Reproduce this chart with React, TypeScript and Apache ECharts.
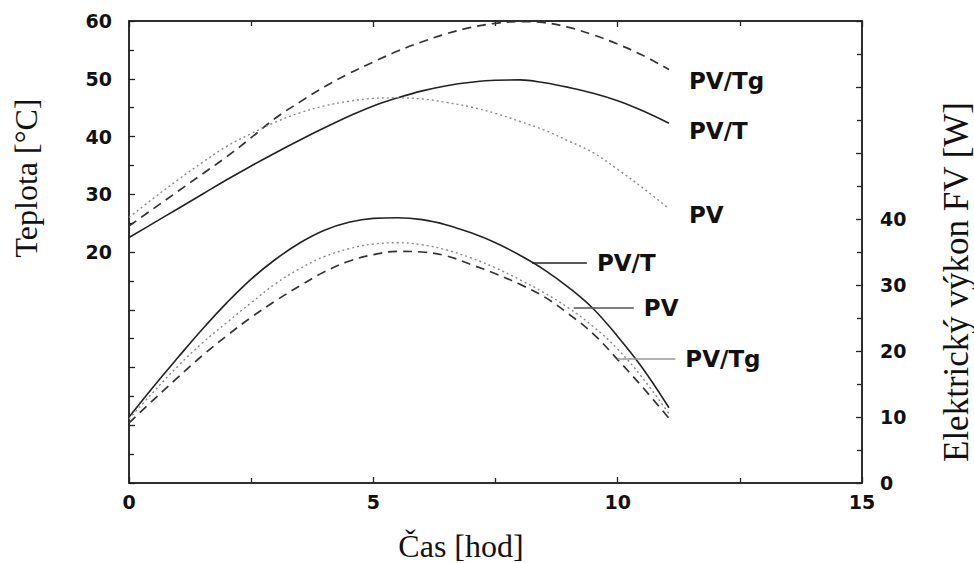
import React, { useEffect, useRef } from "react";
import * as echarts from "echarts";

// hours
const hours = [0, 0.5, 1, 1.5, 2, 2.5, 3, 3.5, 4, 4.5, 5, 5.5, 6, 6.5, 7, 7.5, 8, 8.5, 9, 9.5, 10, 10.5, 11.05];

// temperatures [°C] (left axis)
const tempPVTg = [24.5, 27.5, 30.5, 33.5, 36.5, 39.8, 43.2, 46, 48.6, 50.9, 52.9, 54.8, 56.4, 57.8, 58.9, 59.6, 59.9, 59.7, 58.9, 57.6, 56, 54.1, 51.6];
const tempPVT = [22.5, 25, 27.5, 30, 32.5, 34.9, 37.2, 39.4, 41.5, 43.5, 45.3, 46.7, 47.9, 48.8, 49.4, 49.75, 49.8, 49.3, 48.5, 47.5, 46.2, 44.5, 42.3];
const tempPV = [26, 29.3, 32.5, 35.5, 38.3, 40.5, 42.5, 44.1, 45.3, 46.1, 46.6, 46.7, 46.5, 45.9, 45.1, 44, 42.6, 41.1, 39.2, 37.2, 34.3, 31.2, 27.5];

// electric power [W] (right axis)
const powPVT = [10, 14.6, 19, 23.3, 27.3, 30.9, 33.9, 36.4, 38.3, 39.5, 40.1, 40.2, 39.9, 39.1, 37.9, 36.4, 34.5, 32.3, 29.6, 26.4, 22.2, 17.5, 11.4];
const powPV = [9.7, 13.8, 17.7, 21.2, 24.3, 27.3, 30.2, 32.5, 34.3, 35.5, 36.2, 36.4, 36.1, 35.3, 34.1, 32.6, 30.8, 28.8, 26.5, 23.7, 20.3, 16, 10.5];
const powPVTg = [9.1, 12.6, 16, 19.3, 22.3, 25.1, 27.6, 29.9, 32, 33.6, 34.6, 35.1, 35, 34.4, 33.1, 31.7, 30.1, 28.2, 25.6, 22.6, 18.7, 14.6, 9.8];

// leader-line annotations for the power curves: [label, fromHour, toHour, value]
const powerLabels: [string, number, number, number][] = [
  ["PV/T", 8.25, 9.37, 33.3],
  ["PV", 9.1, 10.33, 26.5],
  ["PV/Tg", 10.0, 11.18, 18.8],
];

const xTicks = { min: 0, max: 15, interval: 5 };
const leftTicks = { min: -20, max: 60, interval: 10, labelFrom: 20 };
const rightTicks = { min: 0, max: 70, interval: 10, labelTo: 40 };

const zip = (xs: number[], ys: number[]) => xs.map((x, i) => [x, ys[i]]);

const tickFont = { fontFamily: "DejaVu Sans", fontWeight: "bold" as const, fontSize: 19, color: "#111" };
const labFont = { fontFamily: "DejaVu Sans", fontWeight: "bold" as const, fontSize: 23, color: "#111" };
const serif = "Liberation Serif";

const SOLID = { color: "#222", width: 1.6, type: "solid" as const };
const DASH = { color: "#333", width: 1.7, type: [9, 6] as any };
const DOT = { color: "#888", width: 1.4, type: [2, 3] as any };

export default function App() {
  const ref = useRef<HTMLDivElement>(null);
  useEffect(() => {
    if (!ref.current) return;
    const chart = echarts.init(ref.current, null, { renderer: "svg" });
    const axisLine = { show: true, onZero: false, lineStyle: { color: "#222", width: 1.5 } };
    const axisTick = { show: true, inside: true, length: 6, lineStyle: { color: "#222", width: 1.3 } };
    const minorTick = { show: true, splitNumber: 2, length: 5, lineStyle: { color: "#222", width: 1.3 } };

    const leaderColors = ["#222", "#555", "#999"];
    const lowerSeriesOrder = [powPVT, powPV, powPVTg];
    const lowerStyles = [SOLID, DOT, DASH];
    const lowerNames = ["PV/T výkon", "PV výkon", "PV/Tg výkon"];

    const upper = [
      { name: "PV/Tg teplota", data: tempPVTg, style: DASH, label: "PV/Tg", offset: [12, 11] },
      { name: "PV/T teplota", data: tempPVT, style: SOLID, label: "PV/T", offset: [12, 8] },
      { name: "PV teplota", data: tempPV, style: DOT, label: "PV", offset: [12, 6] },
    ];

    const series: any[] = [];
    upper.forEach((u) => {
      series.push({
        type: "line",
        name: u.name,
        xAxisIndex: 0,
        yAxisIndex: 0,
        data: zip(hours, u.data),
        smooth: 0.4,
        showSymbol: false,
        symbol: "none",
        lineStyle: u.style,
        endLabel: { show: true, formatter: u.label, offset: u.offset, ...labFont },
      });
    });
    lowerSeriesOrder.forEach((d, i) => {
      const [lab, x1, x2, v] = powerLabels[i];
      series.push({
        type: "line",
        name: lowerNames[i],
        xAxisIndex: 0,
        yAxisIndex: 1,
        data: zip(hours, d),
        smooth: 0.4,
        showSymbol: false,
        symbol: "none",
        lineStyle: lowerStyles[i],
        markLine: {
          silent: true,
          symbol: ["none", "none"],
          lineStyle: { color: leaderColors[i], width: 1.5, type: "solid" },
          label: { show: true, position: "end", distance: 10, formatter: lab, ...labFont },
          data: [[{ coord: [x1, v] }, { coord: [x2, v] }]],
        },
      });
    });

    chart.setOption({
      animation: false,
      backgroundColor: "#fff",
      grid: {
        left: 129,
        right: 112,
        top: 21,
        bottom: 80,
        containLabel: false,
        show: true,
        borderColor: "#222",
        borderWidth: 1.5,
        backgroundColor: "transparent",
      },
      xAxis: [
        {
          type: "value",
          position: "bottom",
          ...xTicks,
          axisLine,
          axisTick,
          minorTick,
          splitLine: { show: false },
          axisLabel: { ...tickFont, margin: 9 },
        },
        {
          type: "value",
          position: "top",
          ...xTicks,
          axisLine,
          axisTick,
          minorTick,
          splitLine: { show: false },
          axisLabel: { show: false },
        },
      ],
      yAxis: [
        {
          type: "value",
          position: "left",
          min: leftTicks.min,
          max: leftTicks.max,
          interval: leftTicks.interval,
          axisLine,
          axisTick,
          minorTick,
          splitLine: { show: false },
          axisLabel: {
            ...tickFont,
            margin: 17,
            formatter: (v: number) => (v >= leftTicks.labelFrom ? String(v) : ""),
          },
        },
        {
          type: "value",
          position: "right",
          min: rightTicks.min,
          max: rightTicks.max,
          interval: rightTicks.interval,
          axisLine,
          axisTick,
          minorTick,
          splitLine: { show: false },
          axisLabel: {
            ...tickFont,
            margin: 18,
            formatter: (v: number) => (v <= rightTicks.labelTo ? String(v) : ""),
          },
        },
      ],
      graphic: [
        {
          type: "text",
          x: 26,
          y: 178,
          rotation: Math.PI / 2,
          style: { text: "Teplota [°C]", font: `32px "${serif}"`, fill: "#111", textAlign: "center", textVerticalAlign: "middle" },
        },
        {
          type: "text",
          x: 956,
          y: 282,
          rotation: Math.PI / 2,
          style: { text: "Elektrický výkon FV [W]", font: `35px "${serif}"`, fill: "#111", textAlign: "center", textVerticalAlign: "middle" },
        },
        {
          type: "text",
          x: 461,
          y: 546,
          style: { text: "Čas [hod]", font: `32px "${serif}"`, fill: "#111", textAlign: "center", textVerticalAlign: "middle" },
        },
      ],
      series,
    });
    return () => chart.dispose();
  }, []);
  return (
    <div
      ref={ref}
      style={{ position: "fixed", left: 0, top: 0, width: 974, height: 563, background: "#fff" }}
    />
  );
}
